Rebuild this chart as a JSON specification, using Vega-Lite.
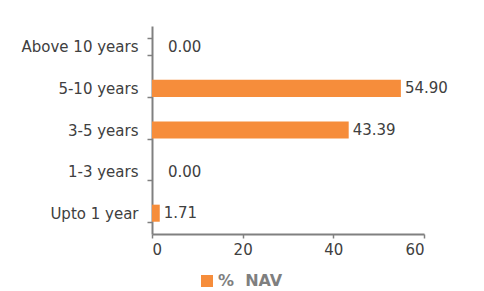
{
  "$schema": "https://vega.github.io/schema/vega-lite/v6.json",
  "autosize": {"type": "none"},
  "padding": {"left": 152, "top": 26, "right": 60, "bottom": 57},
  "width": 272,
  "height": 208,
  "background": "white",
  "data": {"values": [
    {"bucket": "Above 10 years", "value": 0.00, "series": "% \u00a0NAV"},
    {"bucket": "5-10 years", "value": 54.90, "series": "% \u00a0NAV"},
    {"bucket": "3-5 years", "value": 43.39, "series": "% \u00a0NAV"},
    {"bucket": "1-3 years", "value": 0.00, "series": "% \u00a0NAV"},
    {"bucket": "Upto 1 year", "value": 1.71, "series": "% \u00a0NAV"}
  ]},
  "encoding": {
    "y": {
      "field": "bucket", "type": "nominal", "sort": null,
      "scale": {"paddingInner": 0.59, "paddingOuter": 0.295},
      "axis": {
        "title": null, "tickBand": "extent", "domainColor": "#808080", "domainWidth": 2,
        "tickColor": "#808080", "tickWidth": 1.5, "tickSize": 5,
        "labelFont": "DejaVu Sans", "labelFontSize": 15, "labelColor": "#404040", "labelPadding": 9
      }
    },
    "x": {
      "field": "value", "type": "quantitative",
      "scale": {"domain": [0, 60]},
      "axis": {
        "title": null, "values": [0, 20, 40, 60], "grid": false,
        "domainColor": "#808080", "domainWidth": 2,
        "tickColor": "#808080", "tickWidth": 1.5, "tickSize": 4,
        "labelFont": "DejaVu Sans", "labelFontSize": 15, "labelColor": "#404040", "labelPadding": 4
      }
    }
  },
  "layer": [
    {
      "mark": {"type": "bar"},
      "encoding": {
        "color": {
          "field": "series", "type": "nominal",
          "scale": {"range": ["#F68D3B"]},
          "legend": {
            "title": null, "orient": "none", "legendX": 47, "legendY": 247,
            "symbolType": "square", "symbolSize": 144, "symbolStrokeWidth": 0,
            "labelFont": "DejaVu Sans", "labelFontSize": 16, "labelFontWeight": "bold",
            "labelColor": "#7f7f7f", "labelOffset": 3
          }
        }
      }
    },
    {
      "transform": [{"filter": "datum.value > 0"}],
      "mark": {"type": "text", "align": "left", "dx": 4, "font": "DejaVu Sans", "fontSize": 15, "color": "#404040"},
      "encoding": {
        "text": {"field": "value", "type": "quantitative", "format": ".2f"}
      }
    },
    {
      "transform": [{"filter": "datum.value == 0"}],
      "mark": {"type": "text", "align": "left", "dx": 16, "font": "DejaVu Sans", "fontSize": 15, "color": "#404040"},
      "encoding": {
        "text": {"field": "value", "type": "quantitative", "format": ".2f"}
      }
    }
  ],
  "config": {"view": {"stroke": null}}
}
